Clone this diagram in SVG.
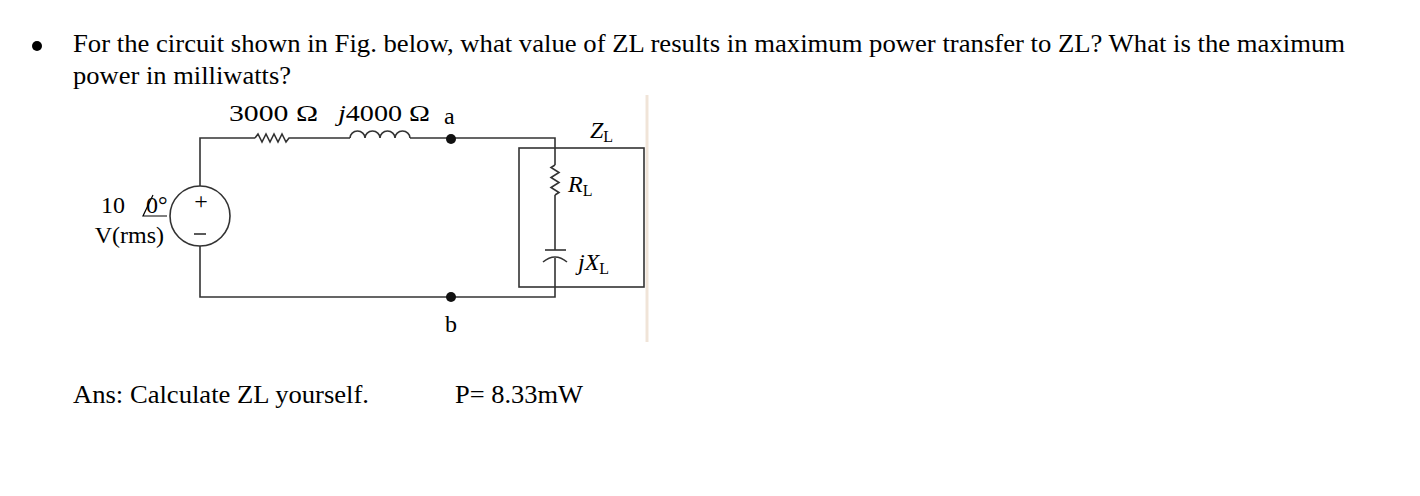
<svg xmlns="http://www.w3.org/2000/svg" width="1420" height="496" viewBox="0 0 1420 496">
<style>
text{font-family:"Liberation Serif","Times New Roman",serif;fill:#000}
.t{font-size:25px}
.l{font-size:24px}
.w{fill:none;stroke:#333;stroke-width:1.6}
</style>
<rect width="1420" height="496" fill="#fff"/>
<circle cx="37" cy="46" r="5" fill="#000"/>
<text class="t" x="73" y="52" textLength="1272" lengthAdjust="spacingAndGlyphs">For the circuit shown in Fig. below, what value of ZL results in maximum power transfer to ZL? What is the maximum</text>
<text class="t" x="73" y="84" textLength="218" lengthAdjust="spacingAndGlyphs">power in milliwatts?</text>
<line x1="647" y1="95" x2="647" y2="342" stroke="#f0e4d8" stroke-width="3"/>
<g id="connectors">
<path class="w" d="M200,186 V138 H255 M290,138 H350 M410,138 H555 V165 M555,195 V250 M555,258 V297 H200 V246"/>
</g>
<g id="resistor"><path class="w" d="M255,138 l3,-4 l4,8 l4,-8 l4,8 l4,-8 l4,8 l4,-8 l4,8 l3,-4 H290"/></g>
<g id="inductor"><path class="w" d="M350,138 a7.5,7 0 0 1 15,0 a7.5,7 0 0 1 15,0 a7.5,7 0 0 1 15,0 a7.5,7 0 0 1 15,0"/></g>
<g id="source"><circle class="w" cx="200" cy="216" r="30"/>
<text class="l" x="201" y="209" text-anchor="middle">+</text><line x1="194" y1="234" x2="206" y2="234" stroke="#000" stroke-width="1.3"/></g>
<g id="node-a"><circle cx="451" cy="139" r="5" fill="#111"/></g>
<g id="node-b"><circle cx="451" cy="297" r="5" fill="#111"/></g>
<g id="zl"><rect class="w" x="519" y="148" width="125" height="139"/></g>
<g id="rl"><path class="w" d="M555,165 l-4,2.5 l8,5 l-8,5 l8,5 l-8,5 l8,5 l-4,2.5"/></g>
<g id="cap"><line class="w" x1="545" y1="250" x2="566" y2="250"/><path class="w" d="M543,262 Q555,252 567,262"/></g>
<text class="l" x="229" y="121" textLength="89" lengthAdjust="spacingAndGlyphs">3000 Ω</text>
<text class="l" x="338" y="121" textLength="92" lengthAdjust="spacingAndGlyphs"><tspan font-style="italic">j</tspan>4000 Ω</text>
<text class="l" x="444" y="124">a</text>
<text class="l" x="590" y="138" font-style="italic">Z<tspan font-size="16" font-style="normal" dy="4">L</tspan></text>
<text class="l" x="568" y="192" font-style="italic">R<tspan font-size="16" font-style="normal" dy="4">L</tspan></text>
<text class="l" x="578" y="270" font-style="italic">jX<tspan font-size="16" font-style="normal" dy="4">L</tspan></text>
<text class="l" x="101" y="213">10</text><text class="l" x="146" y="213">0°</text>
<path d="M153,195 L143,216 H167" fill="none" stroke="#000" stroke-width="1.2"/>
<text class="l" x="164" y="243" text-anchor="end">V(rms)</text>
<text class="l" x="445" y="332">b</text>
<text class="t" x="73" y="403" textLength="296" lengthAdjust="spacingAndGlyphs">Ans: Calculate ZL yourself.</text>
<text class="t" x="455" y="403" textLength="128" lengthAdjust="spacingAndGlyphs">P= 8.33mW</text>
</svg>
